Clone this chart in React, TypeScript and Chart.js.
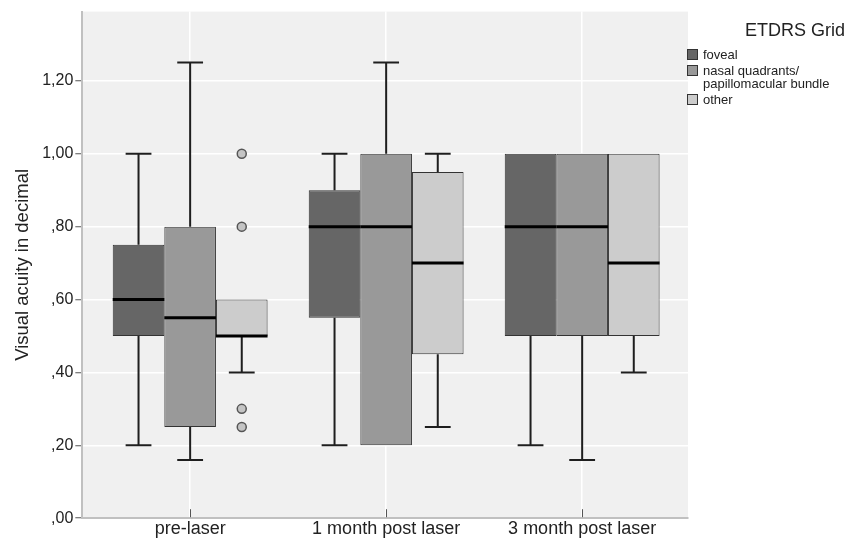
import React, { useEffect, useRef } from 'react';
import { Chart, registerables } from 'chart.js';

Chart.register(...registerables);

const FONT = "'Liberation Sans', Arial, sans-serif";

// ---- data ----
const categories = ['pre-laser', '1 month post laser', '3 month post laser'];
const legendTitle = 'ETDRS Grid';
const seriesLabels = [['foveal'], ['nasal quadrants/', 'papillomacular bundle'], ['other']];
const seriesColors = ['#666666', '#999999', '#cccccc'];

const fovealMin = [0.2, 0.2, 0.2];
const fovealQ1 = [0.5, 0.55, 0.5];
const fovealMedian = [0.6, 0.8, 0.8];
const fovealQ3 = [0.75, 0.9, 1.0];
const fovealMax = [1.0, 1.0, 1.0];
const fovealOutliers: number[][] = [[], [], []];

const nasalMin = [0.16, 0.2, 0.16];
const nasalQ1 = [0.25, 0.2, 0.5];
const nasalMedian = [0.55, 0.8, 0.8];
const nasalQ3 = [0.8, 1.0, 1.0];
const nasalMax = [1.25, 1.25, 1.0];
const nasalOutliers: number[][] = [[], [], []];

const otherMin = [0.4, 0.25, 0.4];
const otherQ1 = [0.5, 0.45, 0.5];
const otherMedian = [0.5, 0.7, 0.7];
const otherQ3 = [0.6, 0.95, 1.0];
const otherMax = [0.6, 1.0, 1.0];
const otherOutliers: number[][] = [[1.0, 0.8, 0.3, 0.25], [], []];

const yTickValues = [0, 0.2, 0.4, 0.6, 0.8, 1.0, 1.2];
const yTickLabels = [',00', ',20', ',40', ',60', ',80', '1,00', '1,20'];
const yTitle = 'Visual acuity in decimal';

const seriesStats = [
  { min: fovealMin, q1: fovealQ1, median: fovealMedian, q3: fovealQ3, max: fovealMax, outliers: fovealOutliers },
  { min: nasalMin, q1: nasalQ1, median: nasalMedian, q3: nasalQ3, max: nasalMax, outliers: nasalOutliers },
  { min: otherMin, q1: otherQ1, median: otherMedian, q3: otherQ3, max: otherMax, outliers: otherOutliers },
];

const plotBg = {
  id: 'plotBg',
  beforeDraw(chart: any) {
    const { ctx, chartArea: a } = chart;
    ctx.save();
    ctx.fillStyle = '#f0f0f0';
    ctx.fillRect(a.left, a.top, a.right - a.left, a.bottom - a.top);
    ctx.restore();
  },
};

const boxExtras = {
  id: 'boxExtras',
  afterDatasetsDraw(chart: any) {
    const ctx = chart.ctx;
    const ys = chart.scales.y;
    ctx.save();
    chart.data.datasets.forEach((ds: any, di: number) => {
      const st = ds.stats;
      if (!st) return;
      const meta = chart.getDatasetMeta(di);
      meta.data.forEach((bar: any, i: number) => {
        const { x, width } = bar.getProps(['x', 'width'], true);
        const half = width / 2;
        const cap = width / 4;
        ctx.strokeStyle = '#1e1e1e';
        ctx.lineWidth = 2;
        ctx.lineCap = 'butt';
        if (st.max[i] > st.q3[i]) {
          const y0 = ys.getPixelForValue(st.q3[i]);
          const y1 = ys.getPixelForValue(st.max[i]);
          ctx.beginPath();
          ctx.moveTo(x, y0);
          ctx.lineTo(x, y1);
          ctx.moveTo(x - cap, y1);
          ctx.lineTo(x + cap, y1);
          ctx.stroke();
        }
        if (st.min[i] < st.q1[i]) {
          const y0 = ys.getPixelForValue(st.q1[i]);
          const y1 = ys.getPixelForValue(st.min[i]);
          ctx.beginPath();
          ctx.moveTo(x, y0);
          ctx.lineTo(x, y1);
          ctx.moveTo(x - cap, y1);
          ctx.lineTo(x + cap, y1);
          ctx.stroke();
        }
        const ym = ys.getPixelForValue(st.median[i]);
        ctx.strokeStyle = '#000000';
        ctx.lineWidth = 3;
        ctx.beginPath();
        ctx.moveTo(x - half, ym);
        ctx.lineTo(x + half, ym);
        ctx.stroke();
        st.outliers[i].forEach((v: number) => {
          const yo = ys.getPixelForValue(v);
          ctx.beginPath();
          ctx.arc(x, yo, 4.5, 0, Math.PI * 2);
          ctx.fillStyle = '#c4c4c4';
          ctx.fill();
          ctx.lineWidth = 1.5;
          ctx.strokeStyle = '#555555';
          ctx.stroke();
        });
      });
    });
    ctx.restore();
  },
};

const innerXTicks = {
  id: 'innerXTicks',
  afterDraw(chart: any) {
    const { ctx, chartArea: a } = chart;
    const xs = chart.scales.x;
    ctx.save();
    ctx.strokeStyle = '#555555';
    ctx.lineWidth = 1;
    xs.ticks.forEach((_t: any, i: number) => {
      const px = Math.round(xs.getPixelForTick(i)) + 0.5;
      ctx.beginPath();
      ctx.moveTo(px, a.bottom - 1);
      ctx.lineTo(px, a.bottom - 9);
      ctx.stroke();
    });
    ctx.restore();
  },
};

const customLegend = {
  id: 'customLegend',
  afterDraw(chart: any) {
    const { ctx, chartArea: a } = chart;
    ctx.save();
    ctx.fillStyle = '#222222';
    ctx.font = `18px ${FONT}`;
    ctx.textAlign = 'right';
    ctx.textBaseline = 'middle';
    ctx.fillText(legendTitle, chart.width - 16, 31);
    ctx.font = `13px ${FONT}`;
    ctx.textAlign = 'left';
    const boxX = a.right - 1;
    let cy = 55;
    chart.data.datasets.forEach((ds: any) => {
      const lines: string[] = ds.legendLines;
      ctx.fillStyle = ds.backgroundColor;
      ctx.fillRect(boxX, cy - 6, 10, 10);
      ctx.strokeStyle = '#333333';
      ctx.lineWidth = 1;
      ctx.strokeRect(boxX + 0.5, cy - 5.5, 10, 10);
      ctx.fillStyle = '#222222';
      lines.forEach((ln, k) => {
        ctx.fillText(ln, boxX + 16, cy + k * 13);
      });
      cy += lines.length * 13 + 3;
    });
    ctx.restore();
  },
};

export default function App() {
  const ref = useRef<HTMLCanvasElement>(null);
  useEffect(() => {
    if (!ref.current) return;
    Chart.defaults.font.family = FONT;
    const datasets = seriesStats.map((st, s) => ({
      label: seriesLabels[s].join(' '),
      legendLines: seriesLabels[s],
      stats: st,
      data: categories.map((_c, i) => ({ x: i, y: [st.q1[i], st.q3[i]] })),
      backgroundColor: seriesColors[s],
      borderColor: '#333333',
      borderWidth: 1,
      borderSkipped: false,
      categoryPercentage: 0.79,
      barPercentage: 1,
    }));
    const chart = new Chart(ref.current, {
      type: 'bar',
      data: { datasets } as any,
      options: {
        animation: false,
        responsive: false,
        devicePixelRatio: 1,
        layout: { padding: { left: 0, right: 173, top: 8, bottom: 1 } },
        plugins: { legend: { display: false }, tooltip: { enabled: false } },
        scales: {
          x: {
            type: 'linear',
            min: -0.55,
            max: 2.54,
            offset: false,
            afterBuildTicks: (s: any) => {
              s.ticks = categories.map((_c, i) => ({ value: i }));
            },
            ticks: {
              callback: (v: any) => categories[v as number],
              font: { size: 18, lineHeight: 1.1 },
              color: '#222222',
              padding: 1,
              maxRotation: 0,
              autoSkip: false,
            },
            grid: { color: '#ffffff', lineWidth: 1.5, offset: false, drawTicks: false },
            border: { color: '#c0c0c0', width: 2 },
          },
          y: {
            type: 'linear',
            min: 0,
            max: 1.39,
            afterBuildTicks: (s: any) => {
              s.ticks = yTickValues.map((v) => ({ value: v }));
            },
            ticks: {
              callback: (_v: any, idx: number) => yTickLabels[idx],
              font: { size: 16 },
              color: '#222222',
              padding: 2,
            },
            grid: { color: '#ffffff', lineWidth: 1.5, tickColor: '#555555', tickLength: 7, tickWidth: 1 },
            border: { color: '#c0c0c0', width: 2 },
            title: {
              display: true,
              text: yTitle,
              font: { size: 18.5 },
              color: '#222222',
              padding: { top: 12, bottom: 6 },
            },
          },
        },
      } as any,
      plugins: [plotBg, boxExtras, innerXTicks, customLegend],
    });
    return () => chart.destroy();
  }, []);
  return (
    <div style={{ position: 'fixed', left: 0, top: 0, width: 861, height: 541, background: '#ffffff' }}>
      <canvas ref={ref} width={861} height={541} style={{ display: 'block' }} />
    </div>
  );
}
